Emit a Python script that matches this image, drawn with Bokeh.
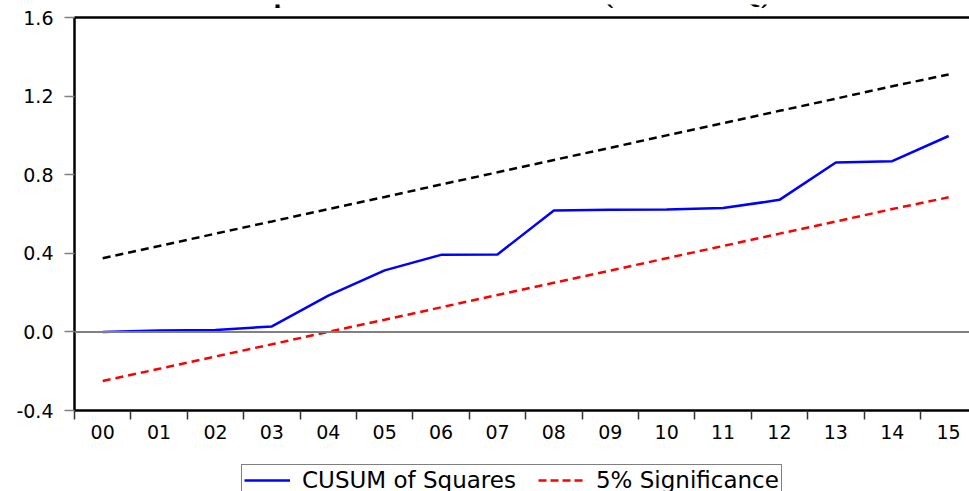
from bokeh.plotting import figure
from bokeh.models import (FixedTicker, Span, Legend, LegendItem, LinearAxis, Label, Range1d,
                          NumeralTickFormatter)
from bokeh.layouts import column
from bokeh.embed import file_html
from bokeh.resources import INLINE

years = ["00", "01", "02", "03", "04", "05", "06", "07", "08", "09", "10", "11", "12", "13", "14", "15"]
cusum_sq = [0.000, 0.007, 0.010, 0.028, 0.185, 0.313, 0.392, 0.394, 0.618, 0.621, 0.623, 0.630, 0.672, 0.862, 0.869, 0.997]
lower_5 = [-0.250, -0.188, -0.125, -0.063, 0.000, 0.062, 0.125, 0.188, 0.250, 0.312, 0.375, 0.437, 0.500, 0.562, 0.625, 0.685]
upper_5 = [0.375, 0.437, 0.500, 0.562, 0.625, 0.687, 0.750, 0.812, 0.875, 0.937, 1.000, 1.062, 1.125, 1.187, 1.250, 1.310]
y_ticks = [-0.4, 0.0, 0.4, 0.8, 1.2, 1.6]
title_text = "Graph of CUSUM of Residuals (CUSUM SQ)"
legend_labels = ["CUSUM of Squares", "5% Significance"]

xs = [i + 0.5 for i in range(len(years))]
font = "DejaVu Sans"
W = 969


def bare(height, y_range=(0, 1)):
    f = figure(width=W, height=height, output_backend="svg", toolbar_location=None,
               x_range=Range1d(0, 1), y_range=Range1d(*y_range),
               min_border_left=0, min_border_right=0, min_border_top=0, min_border_bottom=0,
               x_axis_location=None, y_axis_location=None)
    f.outline_line_color = None
    f.grid.visible = False
    return f


# --- title strip (only the lower part of the title shows, as in the reference)
pt = bare(8)
pt.add_layout(Label(x=151, y=19, x_units="screen", y_units="screen", text=title_text,
                    text_font="Liberation Serif", text_font_style="bold", text_font_size="28px",
                    text_align="left", text_baseline="alphabetic", text_color="black"))

# --- main chart
p = figure(width=W, height=454, output_backend="svg", toolbar_location=None,
           x_range=Range1d(0, 15.87), y_range=Range1d(-0.4, 1.6),
           min_border_left=74, min_border_right=0, min_border_top=9, min_border_bottom=52,
           x_axis_location=None, y_axis_location=None)
p.outline_line_color = None
p.grid.visible = False

yaxis = LinearAxis(ticker=FixedTicker(ticks=y_ticks, minor_ticks=[]))
yaxis.formatter = NumeralTickFormatter(format="0.0")
yaxis.axis_line_color = "black"
yaxis.axis_line_width = 2.5
yaxis.major_tick_line_color = "#808080"
yaxis.major_tick_line_width = 1.5
yaxis.major_tick_out = 10
yaxis.major_tick_in = 0
yaxis.minor_tick_line_color = None
yaxis.major_label_text_font = font
yaxis.major_label_text_font_size = "19px"
yaxis.major_label_text_color = "black"
yaxis.major_label_standoff = 11
p.add_layout(yaxis, "left")

xaxis = LinearAxis(ticker=FixedTicker(ticks=xs, minor_ticks=list(range(len(years) + 1))))
xaxis.major_label_overrides = {x: y for x, y in zip(xs, years)}
xaxis.axis_line_color = "black"
xaxis.axis_line_width = 2.5
xaxis.major_tick_line_color = None
xaxis.major_tick_out = 0
xaxis.major_tick_in = 0
xaxis.minor_tick_line_color = "#333333"
xaxis.minor_tick_line_width = 1.5
xaxis.minor_tick_out = 9
xaxis.minor_tick_in = 0
xaxis.major_label_text_font = font
xaxis.major_label_text_font_size = "19px"
xaxis.major_label_text_color = "black"
xaxis.major_label_standoff = 5
p.add_layout(xaxis, "below")

top_axis = LinearAxis(ticker=FixedTicker(ticks=[]), major_label_text_font_size="0px")
top_axis.axis_line_color = "black"
top_axis.axis_line_width = 2.5
top_axis.major_tick_line_color = None
top_axis.minor_tick_line_color = None
p.add_layout(top_axis, "above")

p.add_layout(Span(location=0, dimension="width", line_color="#808080", line_width=2))

p.line(xs, upper_5, line_color="black", line_width=2.5, line_dash="8 5")
p.line(xs, lower_5, line_color="red", line_width=2.5, line_dash="8 5")
p.line(xs, cusum_sq, line_color="blue", line_width=2.5)

# --- legend strip (its lower edge is cut by the window, as in the reference)
# the series are drawn here out of view (y range far away) only to feed the legend glyphs
pl = bare(29, y_range=(100, 101))
lb = pl.line(xs, cusum_sq, line_color="blue", line_width=2.5)
lr = pl.line(xs, lower_5, line_color="red", line_width=2.5, line_dash="8 4")
legend = Legend(items=[LegendItem(label=legend_labels[0], renderers=[lb]),
                       LegendItem(label=legend_labels[1], renderers=[lr])],
                orientation="horizontal", location=(167, -5))
legend.label_text_font = font
legend.label_text_font_size = "23px"
legend.label_text_color = "black"
legend.glyph_width = 46
legend.label_standoff = 12
legend.spacing = 22
legend.padding = 2
legend.margin = 0
legend.border_line_color = "black"
legend.border_line_width = 1.5
legend.background_fill_alpha = 1
pl.add_layout(legend, "center")

layout = column(pt, p, pl, spacing=0)
open("out.html", "w").write(file_html(layout, INLINE))
